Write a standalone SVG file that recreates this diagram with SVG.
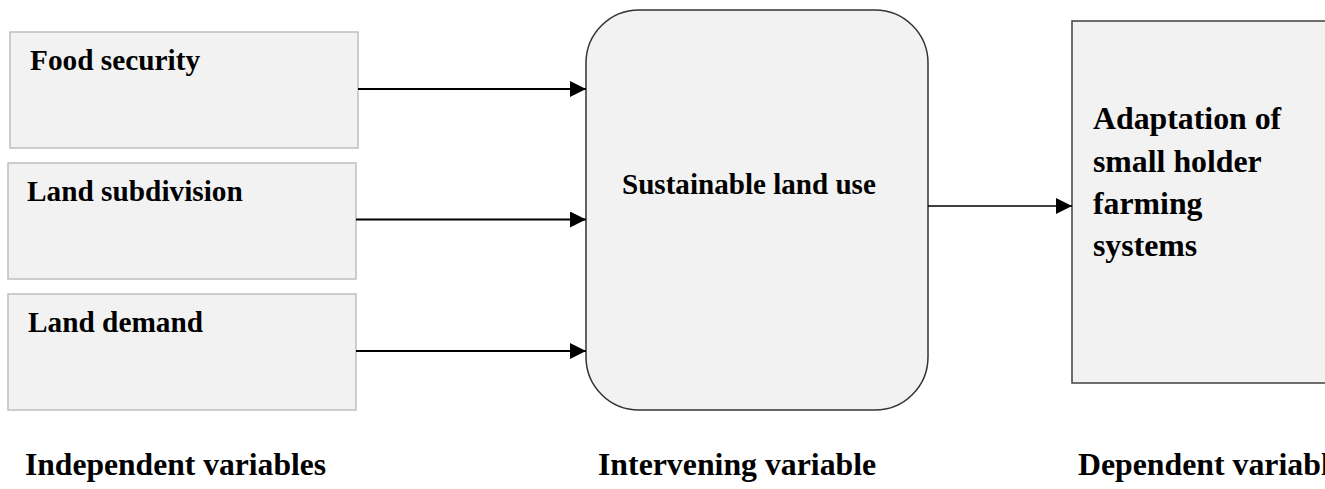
<svg xmlns="http://www.w3.org/2000/svg" width="1325" height="489" viewBox="0 0 1325 489">
  <style>
    .t { font-family: "Liberation Serif", "Times New Roman", serif; font-weight: bold; fill: #000; }
    .box { fill: #f2f2f2; stroke: #bfbfbf; stroke-width: 1.5; }
    .main { fill: #f2f2f2; stroke: #333333; stroke-width: 1.5; }
    .dep { fill: #f2f2f2; stroke: #404040; stroke-width: 1.5; }
    .conn { stroke: #000; fill: none; }
  </style>
  <defs>
    <marker id="arrow" markerUnits="userSpaceOnUse" markerWidth="16" markerHeight="16" refX="16" refY="8" orient="auto">
      <path d="M0,0 L16,8 L0,16 Z" fill="#000"/>
    </marker>
  </defs>
  <rect width="1325" height="489" fill="#ffffff"/>

  <g id="node-food-security">
    <rect class="box" x="10" y="32" width="348" height="116"/>
    <text class="t" x="30" y="70" font-size="29.3">Food security</text>
  </g>
  <g id="node-land-subdivision">
    <rect class="box" x="8" y="163" width="348" height="116"/>
    <text class="t" x="27" y="201" font-size="29.3">Land subdivision</text>
  </g>
  <g id="node-land-demand">
    <rect class="box" x="8" y="294" width="348" height="116"/>
    <text class="t" x="28" y="332" font-size="29.3">Land demand</text>
  </g>
  <g id="node-sustainable-land-use">
    <rect class="main" x="586" y="10" width="342" height="400" rx="53" ry="53"/>
    <text class="t" x="622" y="194" font-size="29.1">Sustainable land use</text>
  </g>
  <g id="node-adaptation">
    <rect class="dep" x="1072" y="21" width="270" height="362"/>
    <text class="t" font-size="31.8">
      <tspan x="1093" y="129">Adaptation of</tspan>
      <tspan x="1093" y="171.5">small holder</tspan>
      <tspan x="1093" y="213.5">farming</tspan>
      <tspan x="1093" y="256">systems</tspan>
    </text>
  </g>

  <g id="connectors">
    <line class="conn" x1="358" y1="89" x2="586" y2="89" stroke-width="2.2" marker-end="url(#arrow)"/>
    <line class="conn" x1="356" y1="219.5" x2="586" y2="219.5" stroke-width="2.2" marker-end="url(#arrow)"/>
    <line class="conn" x1="356" y1="351" x2="586" y2="351" stroke-width="2.2" marker-end="url(#arrow)"/>
    <line class="conn" x1="928" y1="206" x2="1072" y2="206" stroke-width="1.6" marker-end="url(#arrow)"/>
  </g>

  <g id="labels">
    <text class="t" x="25" y="475" font-size="31.6">Independent variables</text>
    <text class="t" x="598" y="475" font-size="31.8">Intervening variable</text>
    <text class="t" x="1078" y="475" font-size="31.8">Dependent variable</text>
  </g>
</svg>
